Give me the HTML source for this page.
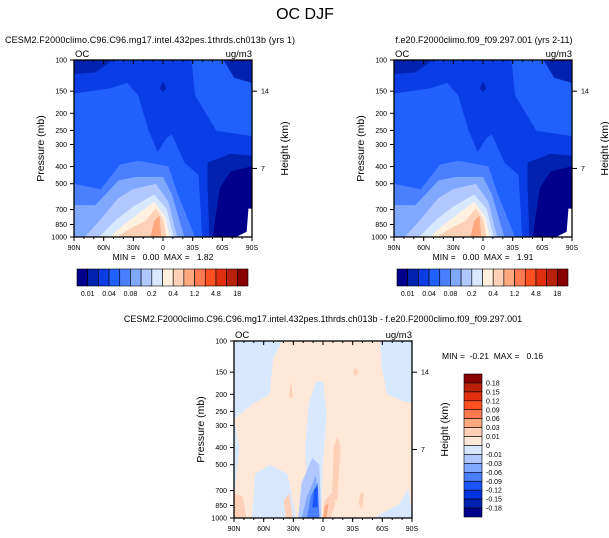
<!DOCTYPE html>
<html><head><meta charset="utf-8"><style>
html,body{margin:0;padding:0;background:#fff;}
svg{display:block;font-family:"Liberation Sans",Arial,sans-serif;}
.pre{white-space:pre;}
</style></head><body>
<svg id="fig" width="609" height="538" viewBox="0 0 609 538" xmlns="http://www.w3.org/2000/svg">
<text x="305" y="19" font-size="16" text-anchor="middle">OC DJF</text>
<text x="150" y="43" font-size="9" text-anchor="middle" textLength="290">CESM2.F2000climo.C96.C96.mg17.intel.432pes.1thrds.ch013b (yrs 1)</text>
<text x="484" y="43" font-size="9" text-anchor="middle">f.e20.F2000climo.f09_f09.297.001 (yrs 2-11)</text>
<text x="323" y="322" font-size="9" text-anchor="middle">CESM2.F2000climo.C96.C96.mg17.intel.432pes.1thrds.ch013b - f.e20.F2000climo.f09_f09.297.001</text>
<g id="panels"></g>
</svg>
<script>
const latLabels = ["90N","60N","30N","0","30S","60S","90S"];
const pressLevels = [100,150,200,250,300,400,500,700,850,1000];
const heightTicks = [14,7];
const heightPress = [150,410];
const meanLevels = ["0.01","0.04","0.08","0.2","0.4","1.2","4.8","18"];
const meanColors = ["#00008c","#0022b0","#0b3de6","#2060ff","#4a80ff","#80a8ff","#b0c8ff","#d8e8ff","#fff0e0","#ffd0b8","#ffa880","#ff7a50","#ff5020","#e03010","#b82008","#880000"];
const diffLevels = ["0.18","0.15","0.12","0.09","0.06","0.03","0.01","0","-0.01","-0.03","-0.06","-0.09","-0.12","-0.15","-0.18"];
const diffColors = ["#880000","#b82008","#e03010","#ff5020","#ff7a50","#ffa880","#ffd0b8","#ffe8d8","#d8e8ff","#b0c8ff","#80a8ff","#4a80ff","#1a55ff","#0033e0","#0022b0","#00008c"];
const minMax = [["0.00","1.82"],["0.00","1.91"],["-0.21","0.16"]];

const NS="http://www.w3.org/2000/svg";
const root=document.getElementById('panels');
function mk(tag,attrs,parent){const e=document.createElementNS(NS,tag);for(const k in attrs)e.setAttribute(k,attrs[k]);(parent||root).appendChild(e);return e;}

const meanShapes=[
 ["#0b3de6","0,0 66,0 68,20 80,40 100,43 100,100 72,100 70,65 62,58 55,42 52,44 47,52 42,40 36,20 30,13 20,16 0,19"],
 ["#0022b0","0,0 22,0 12,7 0,8"],
 ["#0022b0","84,0 100,0 100,13 90,10"],
 ["#0022b0","75,58 88,53 100,54 100,100 76,100 75,70"],
 ["#00008c","82,72 88,63 100,60 100,100 78,100 80,85"],
 ["#ffffff","98,84 100,84 100,100 91,100 97,97"],
 ["#0022b0","48,16 50,12 52,16 50,18"],
 ["#4a80ff","0,100 0,70 15,73 26,59 36,57 53,60 58,75 68,100"],
 ["#80a8ff","0,100 0,82 12,82 25,68 35,66 50,66 55,76 62,100"],
 ["#b0c8ff","6,100 15,90 25,78 33,73 46,70 53,80 58,100"],
 ["#d8e8ff","14,100 24,90 33,83 45,76 52,84 56,100"],
 ["#fff0e0","20,100 28,93 36,87 45,80 51,88 54,100"],
 ["#ffd0b8","24,100 32,95 40,91 46,84 50,90 52,100"],
 ["#ffa880","43,100 45,91 48,88 49,100"]
];
const diffShapes=[
 ["#d8e8ff","0,0 27,0 22,10 20,30 10,36 0,44"],
 ["#d8e8ff","0,44 3,60 0,90"],
 ["#d8e8ff","82,0 100,0 100,35 95,34 86,30 83,15"],
 ["#d8e8ff","42,100 40,60 42,35 46,23 50,23 52,40 50,70 49,100"],
 ["#d8e8ff","10,100 12,75 20,70 30,75 35,100"],
 ["#d8e8ff","78,100 93,92 98,83 100,100"],
 ["#b0c8ff","36,100 38,80 44,66 48,70 49,100"],
 ["#80a8ff","38,100 41,88 46,76 48,100"],
 ["#4a80ff","41,100 43,88 47,80 48,100"],
 ["#1a55ff","44,94 45,84 47,82 47,94"],
 ["#ffd0b8","50,100 51,90 55,86 57,92 54,100"],
 ["#ffa880","50,100 51,93 53,92 52,100"],
 ["#ffd0b8","55,90 56,60 58,54 60,60 58,90"],
 ["#ffd0b8","0,86 5,88 7,100 0,100"],
 ["#ffd0b8","28,90 31,86 33,100 29,100"],
 ["#ffd0b8","70,92 71,86 73,86 72,95"],
 ["#ffd0b8","67,18 68,15 70,17 68,20"],
 ["#ffd0b8","31,32 32,22 33,32"]
];

function yOfP(p,top,H){return top+H*(Math.log(p)-Math.log(100))/(Math.log(1000)-Math.log(100));}

function panel(name,x0,y0,W,H,bg,shapes,mm,diff){
 const g=mk('g',{});
 
 
 const r=mk('rect',{x:x0,y:y0,width:W,height:H,fill:bg},g);
 
 
 const sg=mk('g',{transform:`translate(${x0},${y0}) scale(${W/100},${H/100})`},g);
 shapes.forEach(s=>{const p=mk('polygon',{points:s[1],fill:s[0]},sg);
  
  });
 const fr=mk('rect',{x:x0,y:y0,width:W,height:H,fill:'none',stroke:'#000','stroke-width':1.3},g);
 
 
 latLabels.forEach((l,i)=>{const x=x0+W*i/6;
  mk('line',{x1:x,x2:x,y1:y0+H,y2:y0+H+4,stroke:'#000'},g);
  mk('line',{x1:x,x2:x,y1:y0,y2:y0+4,stroke:'#000'},g);
  const t=mk('text',{x:x,y:y0+H+13,'font-size':7,'text-anchor':'middle'},g);t.textContent=l;
  
  });
 for(let i=0;i<18;i++){const x=x0+W*i/18;mk('line',{x1:x,x2:x,y1:y0+H,y2:y0+H+2,stroke:'#000'},g);mk('line',{x1:x,x2:x,y1:y0,y2:y0+2,stroke:'#000'},g);}
 pressLevels.forEach(p=>{const y=yOfP(p,y0,H);
  mk('line',{x1:x0-4,x2:x0,y1:y,y2:y,stroke:'#000'},g);
  const t=mk('text',{x:x0-7,y:y+2.5,'font-size':7,'text-anchor':'end'},g);t.textContent=p;
  
  });
 heightTicks.forEach((h,i)=>{const y=yOfP(heightPress[i],y0,H);
  mk('line',{x1:x0+W,x2:x0+W+5,y1:y,y2:y,stroke:'#000'},g);
  const t=mk('text',{x:x0+W+9,y:y+2.5,'font-size':7},g);t.textContent=h;
  
  });
 let t=mk('text',{x:0,y:0,'font-size':10.5,'text-anchor':'middle',transform:`translate(${x0-30},${y0+H/2}) rotate(-90)`},g);t.textContent='Pressure (mb)';
 
 
 t=mk('text',{x:0,y:0,'font-size':10.5,'text-anchor':'middle',transform:`translate(${x0+W+36},${y0+H/2}) rotate(-90)`},g);t.textContent='Height (km)';
 
 
 t=mk('text',{x:x0+1,y:y0-3,'font-size':9.5},g);t.textContent='OC';
 
 
 t=mk('text',{x:x0+W,y:y0-3,'font-size':9.5,'text-anchor':'end'},g);t.textContent='ug/m3';
 
 
 if(!diff){t=mk('text',{x:x0+W/2,y:y0+H+23,'font-size':8.5,'text-anchor':'middle','class':'pre'},g);t.textContent=`MIN =   ${mm[0]}  MAX =   ${mm[1]}`;}
 else{t=mk('text',{x:x0+W+30,y:y0+18,'font-size':8.5,'class':'pre'},g);t.textContent=`MIN =  ${mm[0]}  MAX =   ${mm[1]}`;}
 
 
}

function hbar(name,x0,y0,W,h){
 const g=mk('g',{});
 
 
 const bw=W/meanColors.length;
 meanColors.forEach((c,i)=>{const r=mk('rect',{x:x0+i*bw,y:y0,width:bw,height:h,fill:c,stroke:'#000','stroke-width':0.6},g);
  
  });
 meanLevels.forEach((l,i)=>{const t=mk('text',{x:x0+bw*(1+2*i),y:y0+h+10,'font-size':7,'text-anchor':'middle'},g);t.textContent=l;
  
  });
}
function vbar(name,x0,y0,w,H){
 const g=mk('g',{});
 
 
 const bh=H/diffColors.length;
 diffColors.forEach((c,i)=>{const r=mk('rect',{x:x0,y:y0+i*bh,width:w,height:bh,fill:c,stroke:'#000','stroke-width':0.6},g);
  
  });
 diffLevels.forEach((l,i)=>{const t=mk('text',{x:x0+w+4,y:y0+bh*(i+1)+2.5,'font-size':7},g);t.textContent=l;
  
  });
}

panel('left-panel',74,60,178,177,'#2060ff',meanShapes,minMax[0],false);
panel('right-panel',394,60,178,177,'#2060ff',meanShapes,minMax[1],false);
panel('diff-panel',234,341,178,177,'#ffe8d8',diffShapes,minMax[2],true);
hbar('left-colorbar',77,269,171,17);
hbar('right-colorbar',397,269,171,17);
vbar('diff-colorbar',464,374,18,143);
</script>
</body></html>
